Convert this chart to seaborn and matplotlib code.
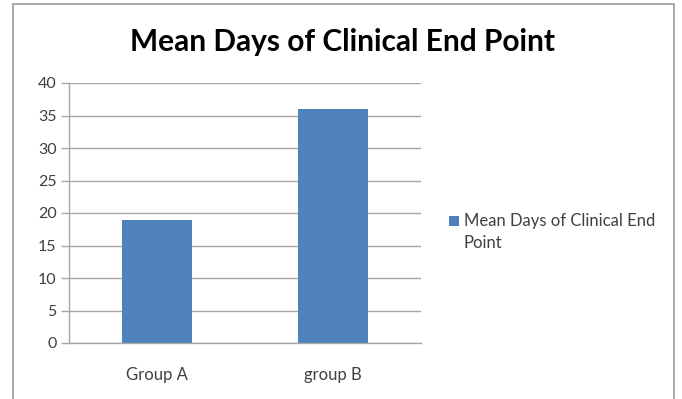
import matplotlib
matplotlib.use("Agg")
import matplotlib.pyplot as plt
from matplotlib.patches import Rectangle, Patch
from matplotlib.legend_handler import HandlerPatch
import seaborn as sns
import pandas as pd

# Chart data
groups = ["Group A", "group B"]
mean_days = [19, 36]
series_name = "Mean Days of Clinical End Point"
y_ticks = [0, 5, 10, 15, 20, 25, 30, 35, 40]

BAR_BLUE = "#4F81BD"
GRID_GRAY = "#A6A6A6"
TEXT_GRAY = "#404040"

sns.set_theme(style="white")
plt.rcParams["font.family"] = ["Lato", "DejaVu Sans"]

W, H = 682, 399
fig = plt.figure(figsize=(W / 100, H / 100), dpi=100)
fig.patch.set_facecolor("white")

# Outer chart frame (bottom edge runs past the image)
fig.patches.append(Rectangle((13 / W, -0.05), (674 - 13) / W, (H - 4) / H + 0.05,
                             transform=fig.transFigure, fill=False,
                             edgecolor="#9A9A9A", linewidth=1.2))

# Plot area in pixel terms
x0, x1, y_top, y_bot = 69, 421, 83, 343
ax = fig.add_axes([x0 / W, (H - y_bot) / H, (x1 - x0) / W, (y_bot - y_top) / H])
ax.set_facecolor("none")

df = pd.DataFrame({"group": groups, "days": mean_days})
sns.barplot(data=df, x="group", y="days", color=BAR_BLUE, saturation=1,
            width=0.4, ax=ax, edgecolor="none")

ax.set_xlim(-0.5, len(groups) - 0.5)
ax.set_ylim(0, 40)
ax.set_yticks(y_ticks)
ax.set_yticklabels([str(t) for t in y_ticks], fontsize=11.5, color=TEXT_GRAY)
ax.yaxis.grid(True, color=GRID_GRAY, linewidth=1)
ax.set_axisbelow(True)

# Category labels centred, tick marks on category boundaries
ax.set_xticks(range(len(groups)))
ax.set_xticklabels(groups, fontsize=12, color=TEXT_GRAY)
ax.tick_params(axis="x", which="major", length=0, pad=17)
ax.set_xticks([i - 0.5 for i in range(len(groups) + 1)], minor=True)
ax.tick_params(axis="x", which="minor", length=6, color=GRID_GRAY, width=1, direction="out")
ax.tick_params(axis="y", length=6, color=GRID_GRAY, width=1, direction="out", pad=3, left=True)

for side in ("top", "right"):
    ax.spines[side].set_visible(False)
for side in ("left", "bottom"):
    ax.spines[side].set_color(GRID_GRAY)
    ax.spines[side].set_linewidth(1)

ax.set_xlabel("")
ax.set_ylabel("")

fig.text(342 / W, 1 - 42 / H, series_name, ha="center", va="center",
         fontsize=21.5, fontweight="bold", color="black")


def first_line_square(legend, orig_handle, xdescent, ydescent, width, height, fontsize):
    # square marker lifted to sit beside the first line of a wrapped label
    side = min(width, height)
    return Rectangle((-xdescent, -ydescent + 0.72 * fontsize), side, side)


handle = Patch(facecolor=BAR_BLUE, edgecolor="none")
leg = fig.legend(handles=[handle], labels=["Mean Days of Clinical End\nPoint"],
                 loc="upper left", bbox_to_anchor=(449 / W, 1 - 213 / H),
                 frameon=False, fontsize=12, handlelength=0.62, handleheight=0.62,
                 handletextpad=0.25, borderaxespad=0, borderpad=0,
                 labelcolor=TEXT_GRAY,
                 handler_map={Patch: HandlerPatch(patch_func=first_line_square)})
for t in leg.get_texts():
    t.set_linespacing(1.45)

fig.savefig("out.png", dpi=100)
